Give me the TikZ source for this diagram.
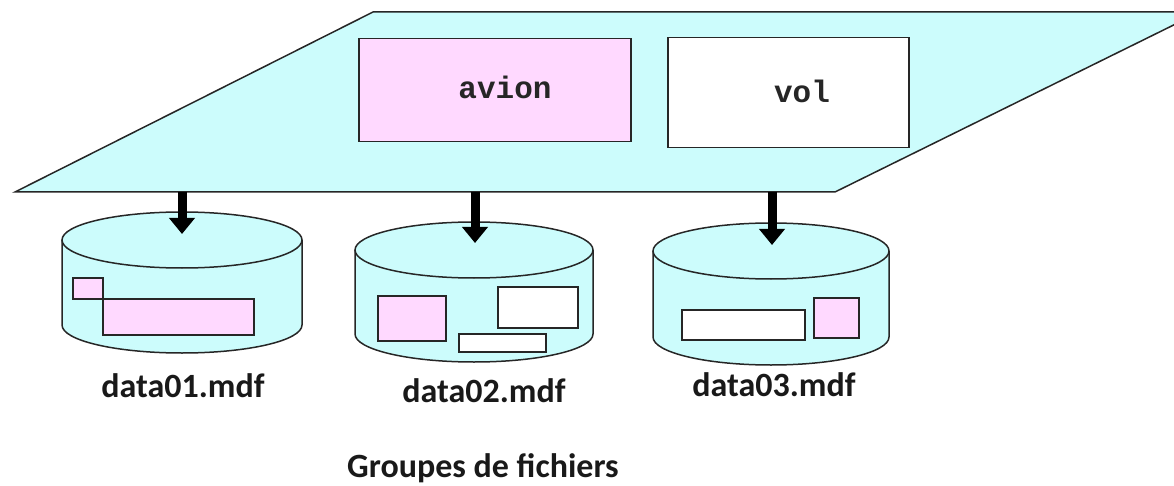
\documentclass[tikz,border=0pt]{standalone}
\usepackage{fontspec}
\setmainfont{Carlito}
\newfontfamily\monofnt{Liberation Mono}
\usetikzlibrary{arrows.meta}
\definecolor{cyanfill}{HTML}{CCFCFC}
\definecolor{pinkfill}{HTML}{FFD9FF}
\tikzset{
  outline/.style={draw=black!85, line width=1.5pt},
  tbox/.style={outline, inner sep=0pt, anchor=north west},
  pinkbox/.style={tbox, fill=pinkfill},
  whitebox/.style={tbox, fill=white},
  bigarrow/.style={line width=9pt, -{Triangle[width=25pt,length=16pt]}},
  lbl/.style={font=\fontsize{34}{34}\selectfont\bfseries, text=black!90},
  tbl/.style={font=\monofnt\fontsize{31}{31}\selectfont\bfseries, text=black!85},
}
\newcommand{\cyl}[5]{% cx, ytop-center, ybottom-center, rx, ry
  \fill[cyanfill] (#1-#4,#2) -- (#1-#4,#3) arc[start angle=180,end angle=360,x radius=#4,y radius=-#5] -- (#1+#4,#2) arc[start angle=0,end angle=180,x radius=#4,y radius=-#5] -- cycle;
  \draw[outline] (#1-#4,#2) -- (#1-#4,#3) arc[start angle=180,end angle=360,x radius=#4,y radius=-#5] -- (#1+#4,#2);
  \draw[outline] (#1,#2) ellipse[x radius=#4, y radius=#5];
}
\begin{document}
\begin{tikzpicture}[x=1pt,y=-1pt]
\useasboundingbox (0,0) rectangle (1174,486);
\begin{scope}
\clip (0,0) rectangle (1174,486);
\draw[outline, fill=cyanfill] (15,192) -- (373,12) -- (1200,12) -- (835,192) -- cycle;
\end{scope}
% table boxes
\node[pinkbox, minimum width=272pt, minimum height=103pt] (avionbox) at (358,38) {};
\node[tbl] (avion) at (505,87) {avion};
\node[whitebox, minimum width=241pt, minimum height=110pt] (volbox) at (667,37) {};
\node[tbl] (vol) at (802,91) {vol};
% cylinders
\cyl{182}{240}{325}{120}{28}
\cyl{474}{250}{334}{119}{28}
\cyl{771}{251}{337}{118}{28}
% cylinder contents
\node[pinkbox, minimum width=30pt, minimum height=21pt] (c1a) at (72,277) {};
\node[pinkbox, minimum width=151pt, minimum height=36pt] (c1b) at (102,298) {};
\node[pinkbox, minimum width=68pt, minimum height=45pt] (c2a) at (377,295) {};
\node[whitebox, minimum width=80pt, minimum height=41pt] (c2b) at (497,286) {};
\node[whitebox, minimum width=87pt, minimum height=18pt] (c2c) at (458,333) {};
\node[whitebox, minimum width=123pt, minimum height=30pt] (c3a) at (681,309) {};
\node[pinkbox, minimum width=45pt, minimum height=40pt] (c3b) at (813,297) {};
% arrows
\coordinate (s1) at (182,192); \coordinate (t1) at (182,234);
\coordinate (s2) at (475,192); \coordinate (t2) at (475,243);
\coordinate (s3) at (772,192); \coordinate (t3) at (772,245);
\draw[bigarrow] (s1) -- (t1);
\draw[bigarrow] (s2) -- (t2);
\draw[bigarrow] (s3) -- (t3);
% labels
\node[lbl] (d1) at (183,386) {data01.mdf};
\node[lbl] (d2) at (484,391) {data02.mdf};
\node[lbl] (d3) at (774,385) {data03.mdf};
\node[lbl] (grp) at (483,468) {Groupes de fichiers};
\end{tikzpicture}
\end{document}
